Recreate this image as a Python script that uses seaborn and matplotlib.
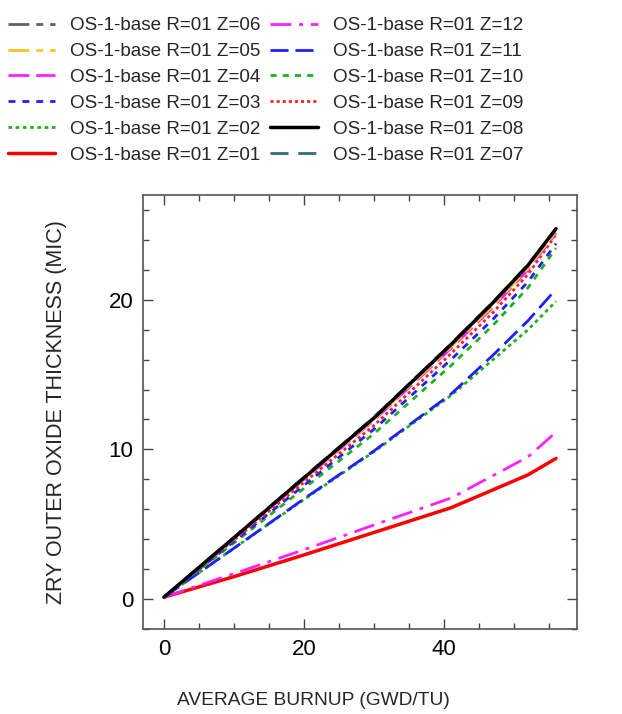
import matplotlib
matplotlib.use("Agg")
import matplotlib.pyplot as plt
import seaborn as sns
import pandas as pd
from matplotlib.ticker import MultipleLocator

sns.set_style("ticks")
plt.rcParams['font.family'] = ['Liberation Sans', 'DejaVu Sans']

# ---- data ----
burnup = [0, 10, 20, 30, 41, 47, 52, 56]

z01 = [0.13, 1.50, 2.95, 4.45, 6.10, 7.30, 8.30, 9.40]
z02 = [0.13, 3.40, 6.65, 9.85, 13.60, 16.00, 18.00, 19.90]
z03 = [0.13, 3.85, 7.60, 11.35, 16.00, 18.70, 21.20, 23.75]
z04 = [0.13, 4.05, 8.00, 11.95, 16.75, 19.50, 22.00, 24.45]
z05 = [0.13, 4.08, 8.05, 12.00, 16.85, 19.60, 22.10, 24.55]
z06 = [0.13, 4.12, 8.13, 12.15, 17.05, 19.85, 22.30, 24.70]
z07 = [0.13, 4.12, 8.15, 12.15, 17.05, 19.85, 22.35, 24.70]
z08 = [0.13, 4.10, 8.10, 12.10, 17.00, 19.80, 22.30, 24.75]
z09 = [0.13, 3.95, 7.80, 11.60, 16.40, 19.15, 21.70, 24.35]
z10 = [0.13, 3.75, 7.40, 11.05, 15.60, 18.30, 20.80, 23.45]
z11 = [0.13, 3.40, 6.70, 9.90, 13.70, 16.30, 18.60, 20.70]
z12 = [0.13, 1.70, 3.30, 4.95, 6.75, 8.25, 9.50, 11.15]

labels = ["OS-1-base R=01 Z=%02d" % i for i in range(1, 13)]
series = [z01, z02, z03, z04, z05, z06, z07, z08, z09, z10, z11, z12]

styles = {
    1: dict(color="#ff0000", ls="-", lw=2.5),
    2: dict(color="#1fb01f", ls=(0, (1.3, 1.3)), lw=2.0),
    3: dict(color="#1f1fff", ls=(0, (2.5, 2.5)), lw=2.0),
    4: dict(color="#ff1fff", ls=(0, (7.5, 2.5)), lw=2.0),
    5: dict(color="#ffc21f", ls=(0, (7.5, 2.5, 2.5, 2.5)), lw=2.0),
    6: dict(color="#6a5a6e", ls=(0, (7.5, 2.5, 2.5, 2.5, 2.5, 2.5)), lw=2.0),
    7: dict(color="#2e6e7e", ls=(0, (6.5, 3.5)), lw=2.0),
    8: dict(color="#000000", ls="-", lw=2.5),
    9: dict(color="#ff1f1f", ls=(0, (1.1, 1.1)), lw=2.0),
    10: dict(color="#1fb01f", ls=(0, (2.2, 2.2)), lw=2.0),
    11: dict(color="#1f1fff", ls=(0, (6.5, 2.5)), lw=2.0),
    12: dict(color="#ff1fff", ls=(0, (7.5, 2.8, 1.4, 2.8)), lw=2.0),
}

fig = plt.figure(figsize=(6.22, 7.14), dpi=100)
ax = fig.add_axes([143/622, 1-629/714, 434/622, 434/714])

handles = {}
draw_order = [1, 12, 2, 11, 10, 3, 9, 4, 5, 6, 7, 8]
for z in draw_order:
    df = pd.DataFrame({"x": burnup, "y": series[z-1]})
    st = styles[z]
    sns.lineplot(data=df, x="x", y="y", ax=ax, color=st["color"],
                 linestyle=st["ls"], linewidth=st["lw"], label=labels[z-1],
                 legend=False)
    handles[z] = ax.lines[-1]

ax.set_xlim(-3, 59)
ax.set_ylim(-2, 27)
ax.xaxis.set_major_locator(MultipleLocator(20))
ax.xaxis.set_minor_locator(MultipleLocator(5))
ax.yaxis.set_major_locator(MultipleLocator(10))
ax.yaxis.set_minor_locator(MultipleLocator(2))
ax.tick_params(which="both", direction="in", top=True, right=True,
               colors="#444444", labelcolor="black", width=1.0)
ax.tick_params(which="major", length=7, labelsize=16, pad=7)
ax.tick_params(which="minor", length=4)
for s in ax.spines.values():
    s.set_color("#555555")
    s.set_linewidth(1.2)

ax.set_xlabel("AVERAGE BURNUP (GWD/TU)", fontsize=13.8)
ax.set_ylabel("ZRY OUTER OXIDE THICKNESS (MIC)", fontsize=15.5)
ax.xaxis.set_label_coords(0.392, -0.145)
ax.yaxis.set_label_coords(-0.175, 0.5)

order = [6, 5, 4, 3, 2, 1, 12, 11, 10, 9, 8, 7]
fig.legend([handles[z] for z in order], [labels[z-1] for z in order],
           loc="upper left", bbox_to_anchor=(8/622, 1-17/714), ncol=2,
           frameon=False, fontsize=13.6, handlelength=2.5, handletextpad=0.8,
           columnspacing=0.5, labelspacing=0.46, borderpad=0, borderaxespad=0)

fig.savefig("out.png", dpi=100)
